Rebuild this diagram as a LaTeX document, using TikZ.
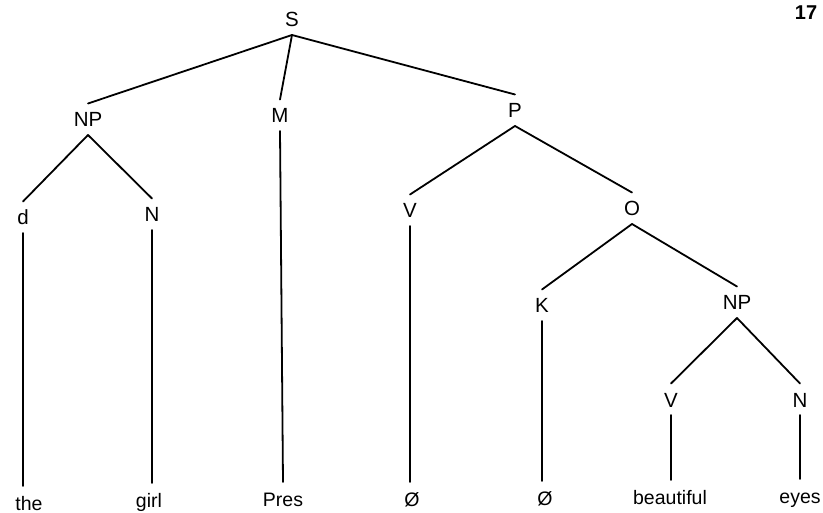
\documentclass[tikz,border=0pt]{standalone}
\usepackage{fontspec}
\setmainfont{Liberation Sans}
\begin{document}
\begin{tikzpicture}[x=1pt,y=-1pt,
  lab/.style={font=\fontsize{20.5}{21}\selectfont, inner sep=0pt, outer sep=0pt, text height=14.5pt, text depth=0pt, anchor=base},
  leaf/.style={font=\fontsize{19.5}{20}\selectfont, inner sep=0pt, outer sep=0pt, text height=14pt, text depth=0pt, anchor=base},
  pg/.style={font=\fontsize{20}{21}\selectfont\bfseries, inner sep=0pt, anchor=base},
  br/.style={line width=1.8pt, line cap=round}]
\useasboundingbox (0,0) rectangle (823,513);
% labels
\node[lab] (S) at (292,27) {S};
\node[lab] (NPa) at (88,127) {NP};
\node[lab] (M) at (280,123) {M};
\node[lab] (P) at (515,118) {P};
\node[lab] (d) at (23,225) {d};
\node[lab] (Na) at (152,222) {N};
\node[lab] (Va) at (410,218) {V};
\node[lab] (O) at (632,216) {O};
\node[lab] (K) at (542,313) {K};
\node[lab] (NPb) at (737,310) {NP};
\node[lab] (Vb) at (671,407) {V};
\node[lab] (Nb) at (800,407) {N};
% leaves
\node[leaf] (the) at (29,510) {the};
\node[leaf] (girl) at (149,507) {girl};
\node[leaf] (pres) at (283,506) {Pres};
\node[leaf] (z1) at (412,506) {Ø};
\node[leaf] (z2) at (545,505) {Ø};
\node[leaf] (beau) at (670,504) {beautiful};
\node[leaf] (eyes) at (800,503) {eyes};
\node[pg] (pn) at (806,20) {17};
% branches
\newcommand\conn[2]{\draw[br] ([yshift=-8pt]#1.south) -- ([yshift=9pt]#2.north);}
\conn{S}{NPa}
\conn{S}{M}
\conn{S}{P}
\conn{NPa}{d}
\conn{NPa}{Na}
\conn{P}{Va}
\conn{P}{O}
\conn{O}{K}
\conn{O}{NPb}
\conn{NPb}{Vb}
\conn{NPb}{Nb}
\newcommand\stem[2]{\draw[br] ([yshift=-8pt]#1.south) -- ([yshift=10pt]#1.south |- #2.north);}
\stem{d}{the}
\stem{Na}{girl}
\draw[br] ([yshift=-8pt]M.south) -- ([yshift=10pt,xshift=3pt]M.south |- pres.north);
\stem{Va}{z1}
\stem{K}{z2}
\stem{Vb}{beau}
\stem{Nb}{eyes}
\end{tikzpicture}
\end{document}
